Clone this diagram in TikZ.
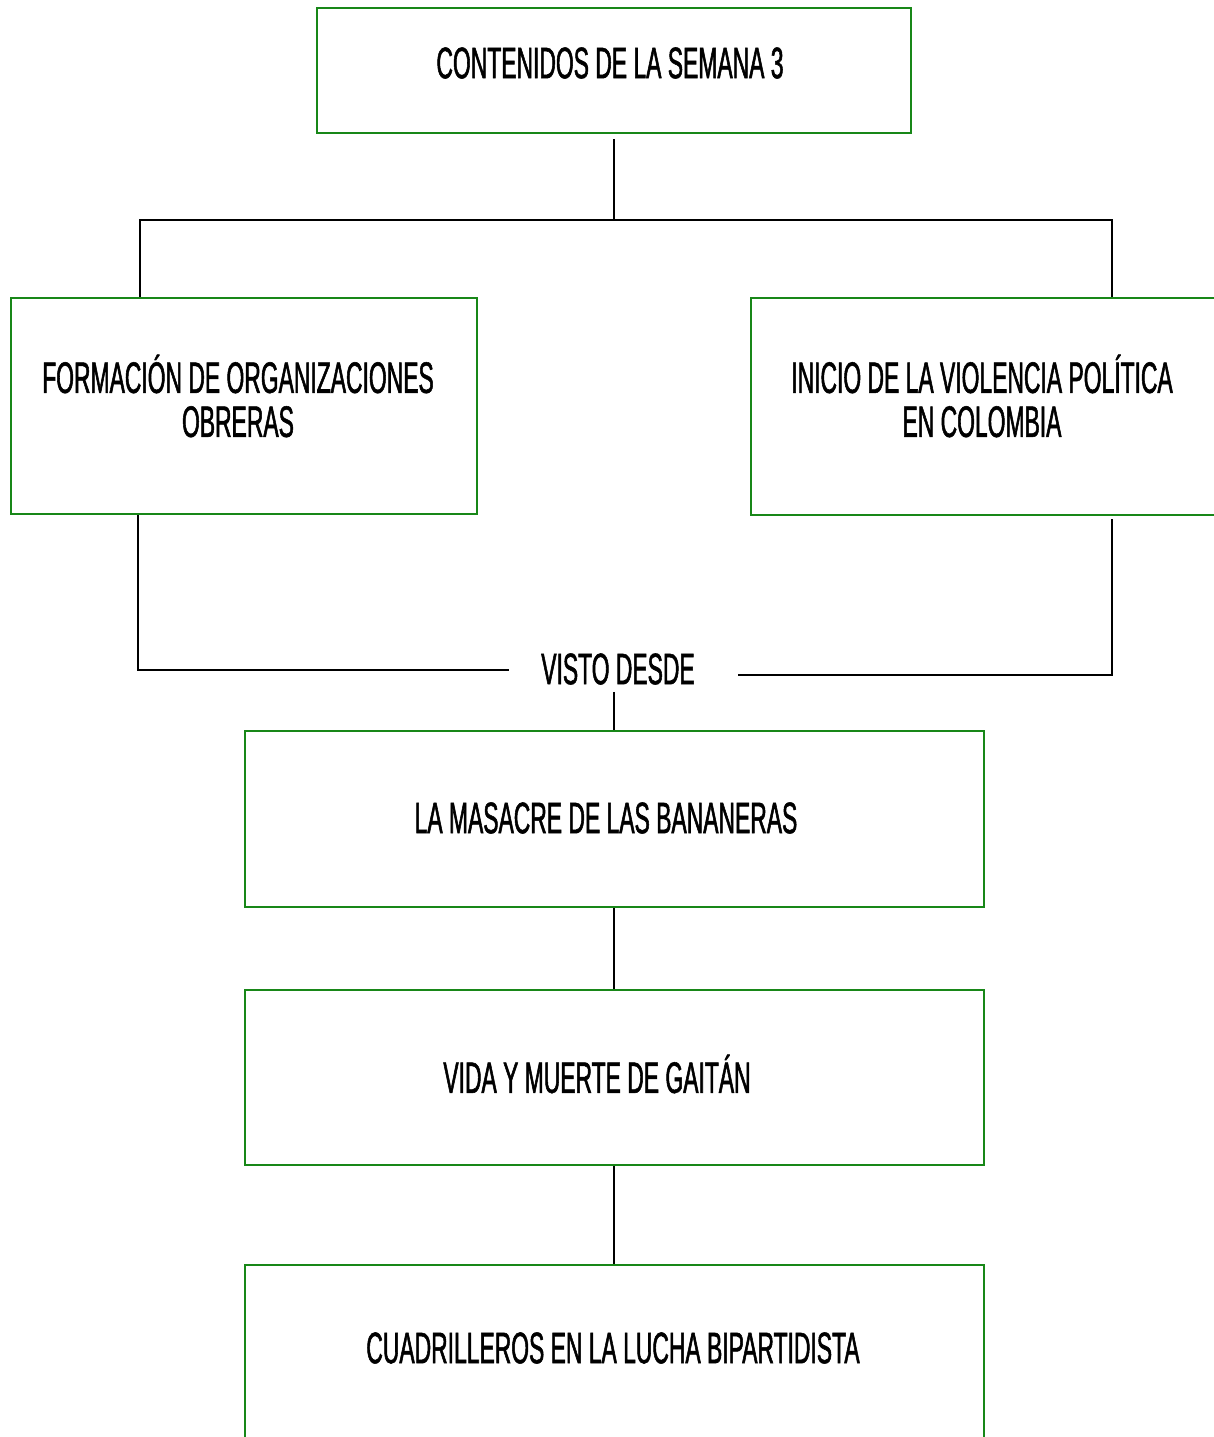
\documentclass[tikz,border=0pt]{standalone}
\usepackage{fontspec}
\setmainfont[FakeStretch=0.52,FakeBold=1.2]{Liberation Sans}
\definecolor{boxgreen}{RGB}{24,135,24}
\begin{document}
\begin{tikzpicture}[x=1pt,y=-1pt,
  box/.style={draw=boxgreen, line width=2.6pt, rectangle, inner sep=0pt, align=center},
  conn/.style={draw=black, line width=2.3pt},
  lbl/.style={inner sep=0pt, align=center, font=\fontsize{44}{44}\selectfont}]
\clip (0,0) rectangle (1214,1437);
\fill[white] (0,0) rectangle (1214,1437);
% boxes
\node[box, minimum width=594pt, minimum height=125pt] (top) at (614,70.5) {};
\node[lbl] (toptxt) at (610,63) {CONTENIDOS DE LA SEMANA 3};
\node[box, minimum width=466pt, minimum height=216pt] (fo) at (244,406) {};
\node[lbl] (fotxt) at (238,396) {FORMACIÓN DE ORGANIZACIONES\\OBRERAS};
\node[box, minimum width=469pt, minimum height=217pt] (vi) at (985.5,406.5) {};
\node[lbl] (vitxt) at (982,396) {INICIO DE LA VIOLENCIA POLÍTICA\\EN COLOMBIA};
\node[lbl, inner xsep=32pt] (visto) at (618,669) {VISTO DESDE};
\node[box, minimum width=739pt, minimum height=176pt] (ma) at (614.5,819) {};
\node[lbl] (matxt) at (606,818) {LA MASACRE DE LAS BANANERAS};
\node[box, minimum width=739pt, minimum height=175pt] (ga) at (614.5,1077.5) {};
\node[lbl] (gatxt) at (597,1074) {VIDA Y MUERTE DE GAITÁN};
\node[box, minimum width=739pt, minimum height=180pt] (cu) at (614.5,1355) {};
\node[lbl] (cutxt) at (613,1348) {CUADRILLEROS EN LA LUCHA BIPARTIDISTA};
% connectors
\coordinate (split) at (614,220);
\draw[conn] ([yshift=-5pt]top.south) -- (split);
\draw[conn] ([xshift=-104pt]fo.north) |- (split) -| ([xshift=126.5pt]vi.north);
\draw[conn] ([xshift=-106pt]fo.south) |- ([yshift=-1pt]visto.west);
\draw[conn] ([xshift=126.5pt,yshift=-3pt]vi.south) |- ([xshift=11pt,yshift=-6pt]visto.east);
\draw[conn] ([yshift=-7pt,xshift=-4pt]visto.south) -- ([xshift=-0.5pt]ma.north);
\draw[conn] ([xshift=-0.5pt]ma.south) -- ([xshift=-0.5pt]ga.north);
\draw[conn] ([xshift=-0.5pt]ga.south) -- ([xshift=-0.5pt]cu.north);
\end{tikzpicture}
\end{document}
